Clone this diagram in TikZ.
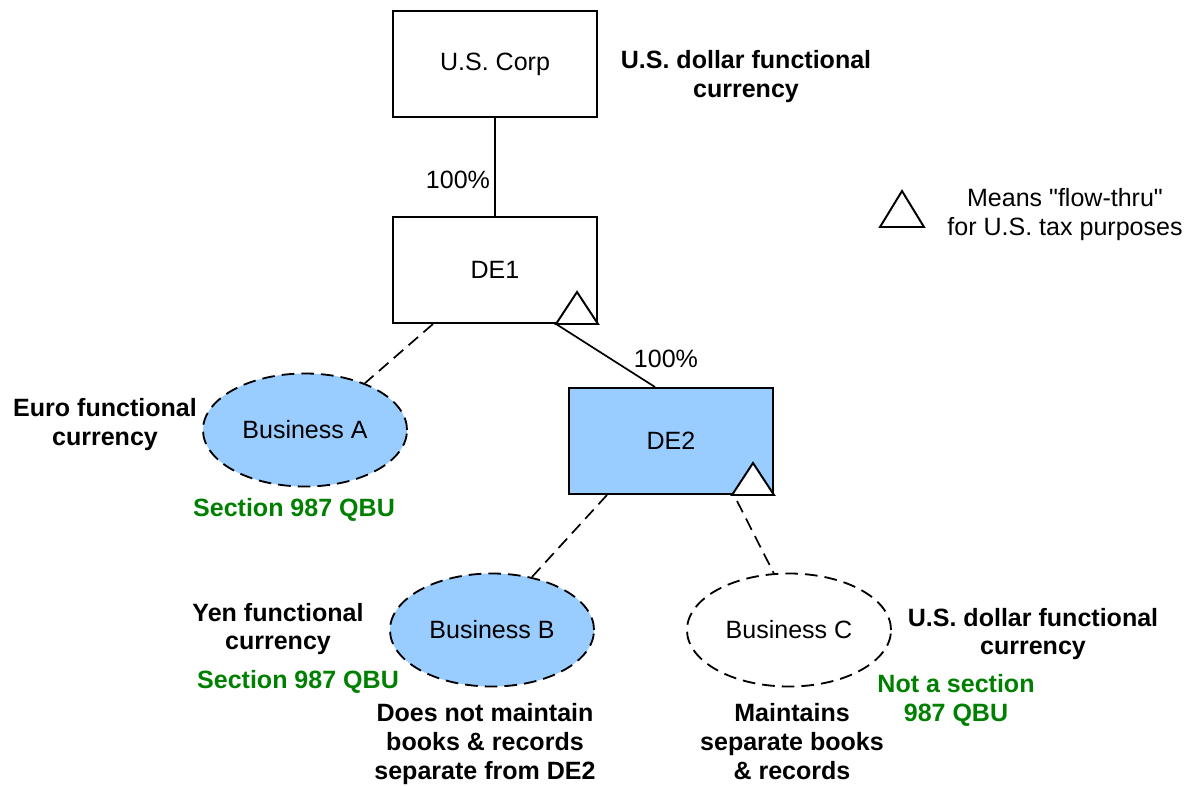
\documentclass[tikz,border=0pt]{standalone}
\usepackage{fontspec}
\setmainfont{Liberation Sans}[Ligatures=TeXOff]
\usetikzlibrary{shapes.geometric}
\definecolor{bizblue}{RGB}{153,204,255}
\definecolor{qbugreen}{RGB}{0,128,0}

\begin{document}
\begin{tikzpicture}[x=0.025cm,y=-0.025cm,
  every node/.style={font=\fontsize{17.8}{20.6}\selectfont},
  entity/.style={draw,line width=1.4pt,minimum width=5.1cm,minimum height=2.65cm,inner sep=0pt},
  biz/.style={ellipse,draw,line width=1.3pt,dash pattern=on 9pt off 5pt,minimum width=5.1cm,minimum height=2.825cm,inner sep=0pt},
  flow/.style={draw,line width=1.4pt,line join=miter,fill=white},
  link/.style={line width=1.2pt},
  dlink/.style={line width=1.2pt,dash pattern=on 9pt off 5pt},
  note/.style={align=center,font=\fontsize{17.8}{20.6}\selectfont\bfseries},
  qbu/.style={note,text=qbugreen},
  legend/.style={align=center}]
\useasboundingbox (0,0) rectangle (1184,785);
\node[entity] (uscorp) at (495,64) {U.S. Corp};
\node[entity] (de1) at (495,270) {DE1};
\node[entity,fill=bizblue] (de2) at (671,441) {DE2};
\node[biz,fill=bizblue] (busa) at (305,430) {Business A};
\node[biz,fill=bizblue] (busb) at (492,630) {Business B};
\node[biz] (busc) at (789,630) {Business C};
\draw[flow] (de1.south east) ++(-42,0) coordinate (de1flow) -- ++(42,0) -- ++(-21,-32) -- cycle;
\draw[flow] (de2.south east) ++(-42,0) coordinate (de2flow) -- ++(42,0) -- ++(-21,-32) -- cycle;
\draw[flow] (880,227) coordinate (keyflow) -- ++(44,0) -- ++(-22,-36) -- cycle;
\draw[link] (uscorp) -- (de1);
\draw[link] (de1flow) -- ([xshift=-0.4cm]de2.north);
\draw[dlink] ([xshift=-1.55cm]de1.south) -- (busa.38);
\draw[dlink] ([xshift=-1.6cm]de2.south) -- (busb.53);
\draw[dlink] ([xshift=1.65cm,yshift=-0.15cm]de2.south) -- (busc.105);
\node (own1) at (458,180) {100\%};
\node (own2) at (666,359) {100\%};
\node[note] (uscur) at (746,77) {U.S. dollar functional\\currency};
\node[legend] (key) at (1065,215) {Means "flow-thru"\\for U.S. tax purposes};
\node[note] (eurocur) at (105,425) {Euro functional\\currency};
\node[qbu] (qbua) at (294,510) {Section 987 QBU};
\node[note] (yencur) at (278,629) {Yen functional\\currency};
\node[qbu] (qbub) at (298,682) {Section 987 QBU};
\node[note] (booksb) at (485,744) {Does not maintain\\books \& records\\separate from DE2};
\node[note] (booksc) at (792,742) {Maintains\\separate books\\\& records};
\node[note] (dollarcur) at (1033,634) {U.S. dollar functional\\currency};
\node[qbu] (qbuc) at (956,700) {Not a section\\987 QBU};
\end{tikzpicture}
\end{document}
